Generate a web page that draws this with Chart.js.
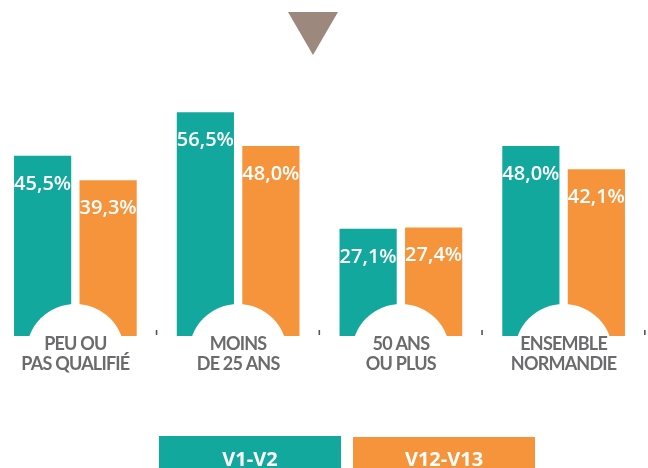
<!DOCTYPE html>
<html>
<head>
<meta charset="utf-8">
<script src="https://cdn.jsdelivr.net/npm/chart.js@4"></script>
<style>
  html, body { margin: 0; padding: 0; background: #fff; overflow: hidden; }
  #wrap { position: absolute; left: -6px; top: 0; }
</style>
</head>
<body>
<div id="wrap"><canvas id="grafico" width="654" height="468"></canvas></div>
<script>
// Données
const categorias = [['PEU OU', 'PAS QUALIFIÉ'], ['MOINS', 'DE 25 ANS'], ['50 ANS', 'OU PLUS'], ['ENSEMBLE', 'NORMANDIE']];
const series = ['V1-V2', 'V12-V13'];
const valoresV1V2 = [45.5, 56.5, 27.1, 48.0];
const valoresV12V13 = [39.3, 48.0, 27.4, 42.1];

const TEAL = '#13a89e';
const ORANGE = '#f6943b';

function fmt(v) {
  return v.toFixed(1).replace('.', ',') + '%';
}

// desenha rótulos, semicírculos, triângulo e legenda
const decor = {
  id: 'decor',
  afterDatasetsDraw(chart) {
    const ctx = chart.ctx;
    const x = chart.scales.x;
    const area = chart.chartArea;
    const n = categorias.length;

    ctx.save();

    // valores nas barras
    ctx.fillStyle = '#fff';
    ctx.font = '600 20px "Open Sans"';
    ctx.textAlign = 'center';
    ctx.textBaseline = 'alphabetic';
    chart.data.datasets.forEach((ds, d) => {
      const meta = chart.getDatasetMeta(d);
      meta.data.forEach((bar, i) => {
        ctx.fillText(fmt(ds.data[i]), bar.x, bar.y + 34);
      });
    });

    // círculos brancos
    for (let i = 0; i < n; i++) {
      const cx = x.getPixelForValue(i);
      ctx.beginPath();
      ctx.arc(cx, area.bottom + 17, 49, Math.PI, 2 * Math.PI);
      ctx.closePath();
      ctx.fillStyle = '#fff';
      ctx.fill();
    }

    // pequenos traços entre categorias
    ctx.fillStyle = '#555';
    for (let i = 1; i <= n; i++) {
      const bx = x.left + i * x.width / n;
      ctx.fillRect(bx - 1, area.bottom - 6, 1.6, 5);
    }

    // nomes das categorias
    ctx.fillStyle = '#6b6b6d';
    ctx.font = 'bold 18px Lato';
    ctx.letterSpacing = '-0.8px';
    for (let i = 0; i < n; i++) {
      const cx = x.getPixelForValue(i);
      categorias[i].forEach((linha, k) => {
        ctx.fillText(linha, cx, area.bottom + 14 + k * 20);
      });
    }
    ctx.letterSpacing = '0px';

    // triângulo
    const tx = 319;
    ctx.beginPath();
    ctx.moveTo(tx - 25, 12);
    ctx.lineTo(tx + 25, 12);
    ctx.lineTo(tx, 55);
    ctx.closePath();
    ctx.fillStyle = '#9c887c';
    ctx.fill();

    // legenda
    const lx = 353, w = 182, gap = 12;
    ctx.font = 'bold 20px "Open Sans"';
    chart.data.datasets.forEach((ds, d) => {
      const left = d === 0 ? lx - gap / 2 - w : lx + gap / 2;
      ctx.fillStyle = ds.backgroundColor;
      ctx.fillRect(left, 436 + d, w, 40);
      ctx.fillStyle = '#fff';
      ctx.fillText(ds.label, left + w / 2, 466);
    });

    ctx.restore();
  }
};

new Chart(document.getElementById('grafico'), {
  type: 'bar',
  data: {
    labels: categorias,
    datasets: [
      {
        label: series[0],
        backgroundColor: TEAL,
        data: valoresV1V2,
        barPercentage: 0.873,
        categoryPercentage: 0.805
      }, {
        label: series[1],
        backgroundColor: ORANGE,
        data: valoresV12V13,
        barPercentage: 0.873,
        categoryPercentage: 0.805
      }
    ]
  },
  options: {
    responsive: false,
    animation: false,
    layout: {
      padding: { top: 98.4, bottom: 132, left: 0, right: 3 }
    },
    plugins: {
      legend: { display: false },
      tooltip: { enabled: false }
    },
    scales: {
      x: { display: false },
      y: { display: false, min: 0, max: 60 }
    }
  },
  plugins: [decor]
});
</script>
</body>
</html>
